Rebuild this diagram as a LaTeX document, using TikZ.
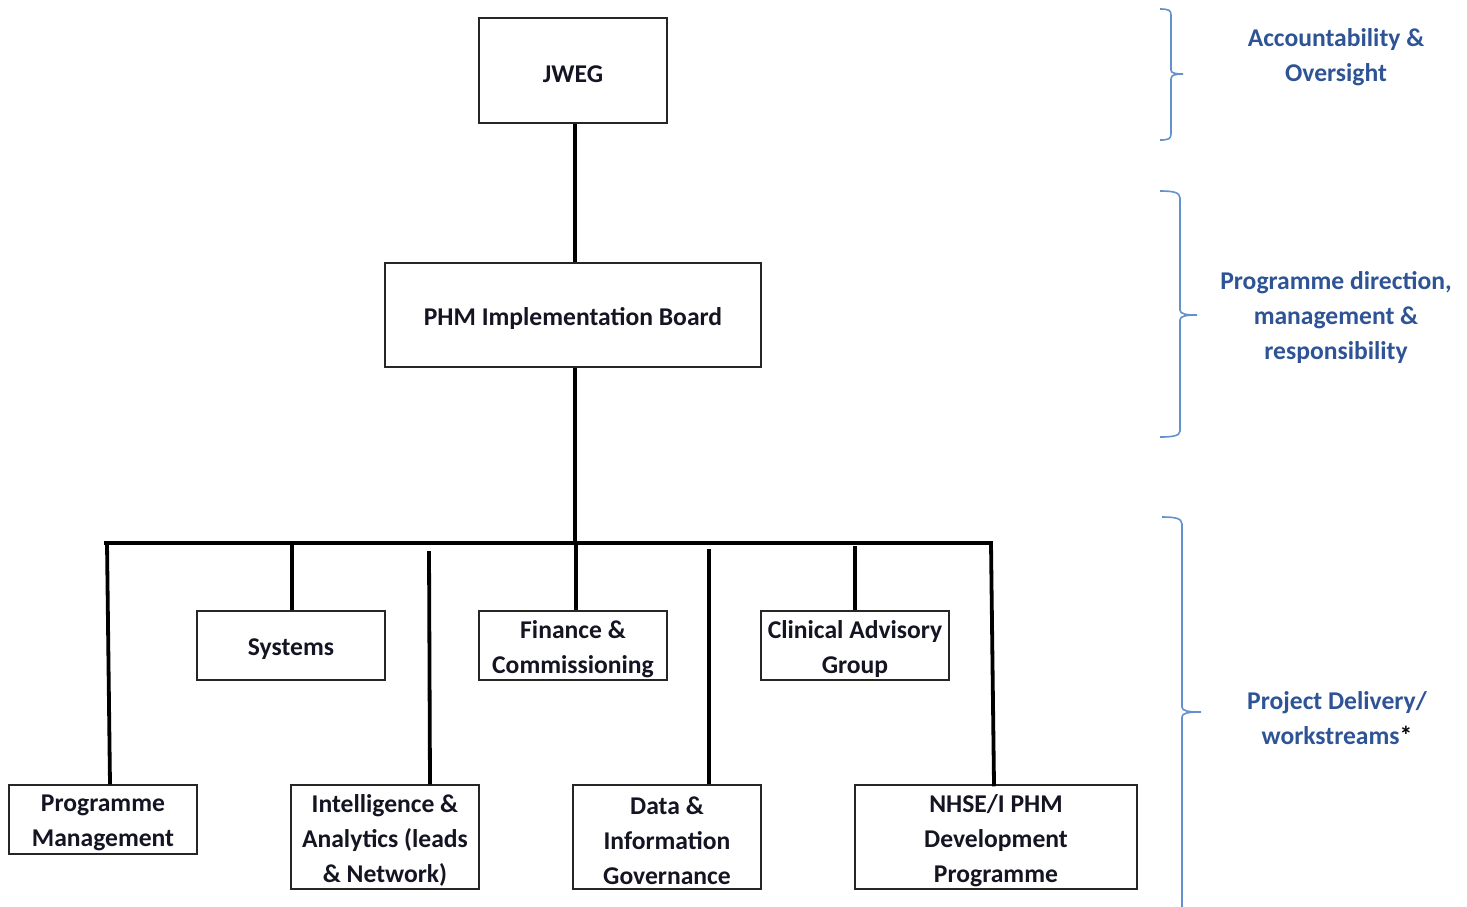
\documentclass[tikz,border=0pt]{standalone}
\usepackage{fontspec}
\setmainfont{Carlito}
\definecolor{boxtext}{RGB}{20,20,35}
\definecolor{lblue}{RGB}{46,84,150}
\definecolor{brace}{RGB}{100,145,205}
\begin{document}
\begin{tikzpicture}[x=1pt,y=-1pt,
  orgbox/.style={draw=black!85,line width=1.3pt,inner sep=0pt},
  btext/.style={align=center,inner sep=0pt,yshift=-3.5pt,
    text=boxtext,font=\fontsize{25.6}{35}\selectfont\bfseries},
  conn/.style={line width=3.8pt,black},
  bracepath/.style={draw=brace,line width=1.6pt},
  side/.style={align=center,text=lblue,font=\fontsize{25.6}{35}\selectfont\bfseries}]
\useasboundingbox (0,0) rectangle (1467,906);
% boxes
\node[orgbox,minimum width=188,minimum height=105,label={[btext]center:JWEG}] (jweg) at (573,70.5) {};
\node[orgbox,minimum width=376,minimum height=104,label={[btext]center:PHM Implementation Board}] (phm) at (573,315) {};
\node[orgbox,minimum width=188,minimum height=69,label={[btext]center:Systems}] (systems) at (291,645.5) {};
\node[orgbox,minimum width=188,minimum height=69,label={[btext]center:{Finance \&\\Commissioning}}] (finance) at (573,645.5) {};
\node[orgbox,minimum width=188,minimum height=69,label={[btext]center:{Clinical Advisory\\Group}}] (clinical) at (855,645.5) {};
\node[orgbox,minimum width=188,minimum height=69,label={[btext]center:{Programme\\Management}}] (progman) at (103,819.5) {};
\node[orgbox,minimum width=188,minimum height=104,label={[btext]center:{Intelligence \&\\Analytics (leads\\\& Network)}}] (intel) at (385,837) {};
\node[orgbox,minimum width=188,minimum height=104,label={[btext]center:{Data \&\\Information\\Governance}}] (data) at (667,837) {};
\node[orgbox,minimum width=282,minimum height=104,label={[btext]center:{NHSE/I PHM\\Development\\Programme}}] (nhse) at (996,837) {};
% bus
\coordinate (busL) at (104,543);
\coordinate (busR) at (991,543);
\coordinate (intelTop) at (429,551);
\coordinate (dataTop) at (709,549);
\draw[conn] (jweg.south -| 575,0) -- (phm.north -| 575,0);
\draw[conn] (phm.south -| 575,0) -- (575,543);
\draw[conn] (busL) -- (busR);
\draw[conn] (107,543) -- (progman.north -| 110,0);
\draw[conn] (292,543) -- (systems.north -| 292,0);
\draw[conn] (intelTop) -- (intel.north -| 430,0);
\draw[conn] (576,543) -- (finance.north -| 576,0);
\draw[conn] (dataTop) -- (data.north -| 709,0);
\draw[conn] (855,546) -- (clinical.north -| 855,0);
\draw[conn,line cap=rect] (busR) -- (nhse.north -| 994,0);
% braces
\draw[bracepath] (1160,9) .. controls (1168,9) and (1171,10) .. (1171,15) -- (1171,70)
  .. controls (1171,73) and (1175,74) .. (1183,74)
  .. controls (1175,74) and (1171,75) .. (1171,79) -- (1171,134)
  .. controls (1171,139) and (1168,140) .. (1160,140);
\draw[bracepath] (1160,191) .. controls (1172,191) and (1180,192) .. (1180,198) -- (1180,310)
  .. controls (1180,314) and (1186,315) .. (1197,315)
  .. controls (1186,315) and (1180,316) .. (1180,320) -- (1180,431)
  .. controls (1180,436) and (1172,437) .. (1160,437);
\draw[bracepath] (1162,517) .. controls (1174,517) and (1182,518) .. (1182,524) -- (1182,707)
  .. controls (1182,711) and (1188,712) .. (1201,712)
  .. controls (1188,712) and (1182,713) .. (1182,717) -- (1182,910);
% side labels
\node[side] (acc) at (1336,57) {Accountability \&\\Oversight};
\node[side] (pdir) at (1336,318) {Programme direction,\\management \&\\responsibility};
\node[side] (pdel) at (1337,718) {Project Delivery/\\workstreams\textcolor{black}{*}};
\end{tikzpicture}
\end{document}
